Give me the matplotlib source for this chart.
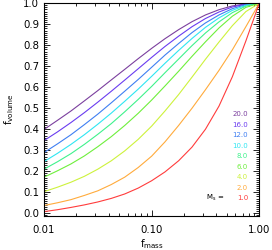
import matplotlib
matplotlib.use("Agg")
import matplotlib.pyplot as plt
from matplotlib.ticker import MultipleLocator, LogLocator, FixedLocator, NullFormatter

plt.rcParams['font.family'] = ['DejaVu Sans']
plt.rcParams['mathtext.default'] = 'regular'

#-- values
f_mass = [0.01, 0.0133, 0.0178, 0.0237, 0.0316, 0.0422, 0.0562, 0.075, 0.10,
          0.133, 0.178, 0.237, 0.316, 0.422, 0.562, 0.75, 1.0]
mach = [20.0, 16.0, 12.0, 10.0, 8.0, 6.0, 4.0, 2.0, 1.0]
f_vol_m20 = [0.399, 0.442, 0.487, 0.535, 0.584, 0.635, 0.685, 0.736, 0.785,
             0.831, 0.874, 0.912, 0.944, 0.969, 0.987, 0.997, 1.0]
f_vol_m16 = [0.346, 0.387, 0.432, 0.479, 0.529, 0.581, 0.634, 0.688, 0.742,
             0.794, 0.843, 0.888, 0.927, 0.958, 0.982, 0.995, 1.0]
f_vol_m12 = [0.289, 0.33, 0.374, 0.422, 0.472, 0.526, 0.581, 0.637, 0.695,
             0.753, 0.808, 0.86, 0.906, 0.944, 0.974, 0.993, 1.0]
f_vol_m10 = [0.246, 0.285, 0.328, 0.374, 0.424, 0.477, 0.533, 0.591, 0.652,
             0.714, 0.775, 0.832, 0.885, 0.93, 0.966, 0.99, 1.0]
f_vol_m8 = [0.21, 0.245, 0.284, 0.328, 0.376, 0.427, 0.483, 0.542, 0.604,
            0.669, 0.734, 0.798, 0.858, 0.911, 0.955, 0.986, 1.0]
f_vol_m6 = [0.172, 0.202, 0.235, 0.273, 0.317, 0.365, 0.418, 0.476, 0.539,
            0.606, 0.676, 0.747, 0.816, 0.882, 0.938, 0.98, 1.0]
f_vol_m4 = [0.103, 0.124, 0.148, 0.176, 0.21, 0.25, 0.297, 0.352, 0.415,
            0.487, 0.565, 0.648, 0.733, 0.815, 0.893, 0.96, 1.0]
f_vol_m2 = [0.037, 0.050, 0.065, 0.085, 0.107, 0.137, 0.172, 0.218, 0.272,
            0.34, 0.418, 0.50, 0.588, 0.68, 0.778, 0.888, 1.0]
f_vol_m1 = [0.008, 0.017, 0.028, 0.040, 0.054, 0.071, 0.092, 0.12, 0.155,
            0.197, 0.25, 0.315, 0.40, 0.51, 0.65, 0.82, 1.0]
curves = [f_vol_m20, f_vol_m16, f_vol_m12, f_vol_m10, f_vol_m8,
          f_vol_m6, f_vol_m4, f_vol_m2, f_vol_m1]
colors = ['#7b3f9e', '#6a3cf0', '#3f7ff2', '#2fe6f2', '#3ff28c',
          '#6eef3c', '#cdf23c', '#ffab3c', '#ff3c3c']

fig = plt.figure(figsize=(2.72, 2.50), dpi=100)
ax = fig.add_axes([0.1618, 0.1372, 0.7915, 0.8528])

for fv, c in zip(curves, colors):
    ax.plot(f_mass, fv, color=c, lw=0.8)

ax.set_xscale('log')
ax.set_xlim(0.01, 1.0)
ax.set_ylim(-0.0114, 1.0033)

ax.xaxis.set_major_locator(FixedLocator([0.01, 0.1, 1.0]))
ax.xaxis.set_minor_locator(LogLocator(base=10, subs=range(2, 10)))
ax.xaxis.set_minor_formatter(NullFormatter())
ax.set_xticklabels(['0.01', '0.10', '1.00'])
ax.yaxis.set_major_locator(MultipleLocator(0.1))
ax.yaxis.set_minor_locator(MultipleLocator(0.01))
ax.yaxis.set_major_formatter(plt.FormatStrFormatter('%.1f'))

ax.tick_params(which='both', direction='in', top=True, right=True, width=0.6)
ax.tick_params(which='major', length=4.5, labelsize=7.3)
ax.tick_params(which='minor', length=2.2)
ax.tick_params(axis='x', which='major', pad=6.5)
ax.tick_params(axis='y', which='major', pad=3.4)
for s in ax.spines.values():
    s.set_linewidth(0.8)

ax.set_xlabel('f$_{mass}$', fontsize=7.3, labelpad=1.5)
ax.set_ylabel('f$_{volume}$', fontsize=7.3, labelpad=5)

#-- Mach number key
for i, (m, c) in enumerate(zip(mach, colors)):
    ax.text(0.9475, 0.4756 - 0.04925 * i, '%.1f' % m, color=c, fontsize=5.0,
            ha='right', va='center', transform=ax.transAxes)
ax.text(0.836, 0.4756 - 0.04925 * (len(mach) - 1), 'M$_s$ =', color='black',
        fontsize=5.0, ha='right', va='center', transform=ax.transAxes)

fig.savefig('out.png', dpi=100)
